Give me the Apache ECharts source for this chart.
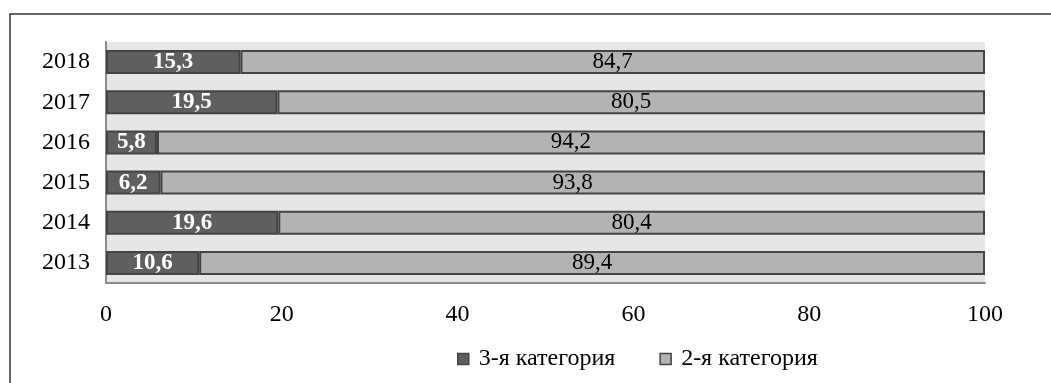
<!DOCTYPE html>
<html>
<head>
<meta charset="utf-8">
<script src="https://cdn.jsdelivr.net/npm/echarts@6/dist/echarts.min.js"></script>
<style>
  html, body { margin: 0; padding: 0; background: #fff; }
  #chart { width: 1051px; height: 383px; }
</style>
</head>
<body>
<div id="chart"></div>
<script>
var years = ['2013', '2014', '2015', '2016', '2017', '2018'];
var cat3 = [10.6, 19.6, 6.2, 5.8, 19.5, 15.3];
var cat2 = [89.4, 80.4, 93.8, 94.2, 80.5, 84.7];
var xTicks = [0, 20, 40, 60, 80, 100];

var serif = '"Liberation Serif", "Times New Roman", serif';

function comma(p) {
    return String(p.value.toFixed(1)).replace('.', ',');
}

var option = {
    animation: false,
    textStyle: { fontFamily: serif },
    graphic: [
        {
            type: 'polyline',
            shape: { points: [[10, 390], [10, 14], [1060, 14]] },
            style: { stroke: '#333', lineWidth: 1.5, fill: null }
        }
    ],
    grid: {
        left: 106,
        right: 66,
        top: 42,
        bottom: 100,
        show: true,
        backgroundColor: '#e6e6e6',
        borderWidth: 0
    },
    legend: {
        top: 342,
        left: 452,
        icon: 'rect',
        itemWidth: 11,
        itemHeight: 11,
        itemGap: 44,
        itemStyle: { borderColor: '#444', borderWidth: 1.5 },
        textStyle: { fontFamily: serif, fontSize: 24, color: '#000', padding: [0, 0, 0, 5] },
        data: ['3-я категория', '2-я категория']
    },
    xAxis: {
        type: 'value',
        min: xTicks[0],
        max: xTicks[xTicks.length - 1],
        interval: 20,
        axisLine: { show: true, lineStyle: { color: '#8c8c8c', width: 2 } },
        axisTick: { show: false },
        splitLine: { show: false },
        axisLabel: { fontFamily: serif, fontSize: 24, color: '#000', margin: 20 }
    },
    yAxis: {
        type: 'category',
        data: years,
        axisLine: { show: true, lineStyle: { color: '#8c8c8c', width: 2 } },
        axisTick: { show: false },
        axisLabel: { fontFamily: serif, fontSize: 24, color: '#000', margin: 16 }
    },
    series: [
        {
            name: '3-я категория',
            type: 'bar',
            stack: 'total',
            barWidth: 24,
            data: cat3,
            itemStyle: { color: '#5f5f5f', borderColor: '#444', borderWidth: 2 },
            label: {
                show: true,
                position: 'inside',
                formatter: comma,
                color: '#fff',
                fontWeight: 'bold',
                fontFamily: serif,
                fontSize: 23
            }
        },
        {
            name: '2-я категория',
            type: 'bar',
            stack: 'total',
            barWidth: 24,
            data: cat2,
            itemStyle: { color: '#b3b3b3', borderColor: '#444', borderWidth: 2 },
            label: {
                show: true,
                position: 'inside',
                formatter: comma,
                color: '#000',
                fontFamily: serif,
                fontSize: 23
            }
        }
    ]
};

var myChart = echarts.init(document.getElementById('chart'));
myChart.setOption(option);
</script>
</body>
</html>
